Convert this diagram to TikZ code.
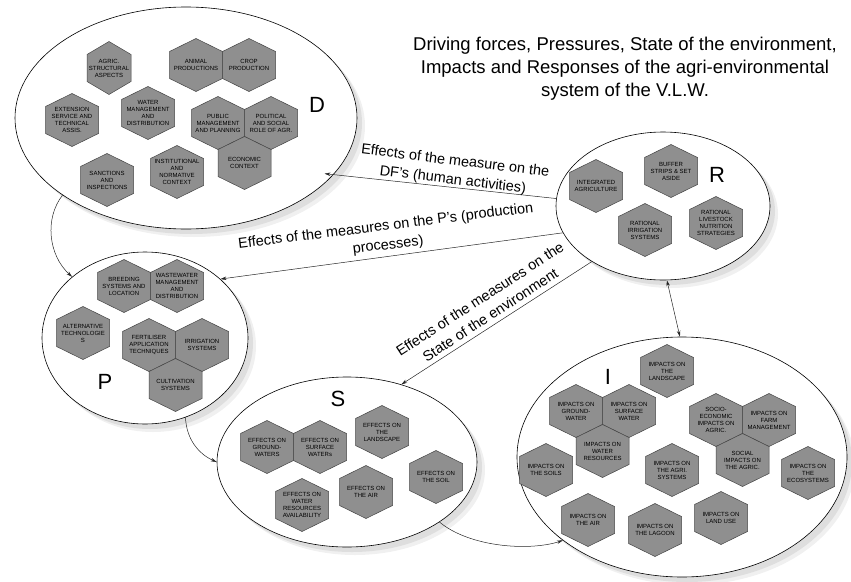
\documentclass[tikz,border=0pt]{standalone}
\usepackage{fontspec}
\setmainfont{Liberation Sans}
\usepackage{tikz}
\usetikzlibrary{shapes.geometric,arrows.meta,shadows}
\definecolor{hexgray}{RGB}{143,143,143}
\definecolor{hexline}{RGB}{70,70,70}

% hexagon with its text: [half width]{name}{x,y}{text}
\newcommand{\hexcell}[4][26.5]{%
  \filldraw[hexfill] (#3) ++(0,-26.5) -- ++(#1,13) -- ++(0,27) -- ++(-#1,13) -- ++(-#1,-13) -- ++(0,-27) -- cycle;
  \node[hextext] (#2) at (#3) {#4};
}

\begin{document}
\begin{tikzpicture}[x=1pt,y=-1pt,
    zone/.style={ellipse, draw=black, line width=0.6pt, fill=white, inner sep=0pt,
      drop shadow={shadow xshift=8pt, shadow yshift=-8pt, opacity=1, fill=gray!12},
      drop shadow={shadow xshift=5pt, shadow yshift=-5pt, opacity=1, fill=gray!26}},
    hexfill/.style={fill=hexgray, draw=hexline, line width=0.5pt},
    hextext/.style={font=\fontsize{6}{7}\selectfont, align=center, inner sep=0pt},
    zoneletter/.style={font=\fontsize{22}{22}\selectfont, inner sep=0pt},
    flowtext/.style={font=\fontsize{14.5}{19}\selectfont, align=center, inner sep=0pt},
    flow/.style={draw=black!85, line width=0.5pt, -{Stealth[length=6pt,width=3.5pt]}}]
    \useasboundingbox (0,0) rectangle (851,581);

    % the five systems
    \node[zone, minimum width=342pt, minimum height=222pt] (D) at (186,118) {};
    \node[zone, minimum width=214pt, minimum height=148pt] (R) at (663,206) {};
    \node[zone, minimum width=206pt, minimum height=172pt] (P) at (145,338) {};
    \node[zone, minimum width=260pt, minimum height=170pt] (S) at (347,462) {};
    \node[zone, minimum width=330pt, minimum height=240pt] (I) at (682,457) {};

    \node[font=\fontsize{18.5}{23}\selectfont, align=center] (title) at (625,69)
        {Driving forces, Pressures, State of the environment,\\
         Impacts and Responses of the agri-environmental\\
         system of the V.L.W.};

    % links
    \draw[flow, shorten >=-9pt] (R.176) -- (D.-21);
    \draw[flow] (R.195) -- (P.38);
    \draw[flow] (R.218) -- (S.55);
    \draw[flow] (D.212) .. controls +(-18,23) and +(-24,-22) .. (P.140);
    \draw[flow] (P.-63) .. controls +(1,22) and +(-18,-8) .. (S.180);
    \draw[flow] (S.-33) .. controls +(30,25) and +(-34,11) .. (I.215);
    \draw[flow, {Stealth[length=6pt,width=3.5pt]}-{Stealth[length=6pt,width=3.5pt]}] (R.-87) -- (I.91);

    \node[flowtext, rotate=-7] (lab1) at (454,171) {Effects of the measure on the\\DF's (human activities)};
    \node[flowtext, rotate=7] (lab2) at (387,236) {Effects of the measures on the P's (production\\processes)};
    \node[flowtext, rotate=33] (lab3) at (485,307) {Effects of the measures on the\\State of the environment};

    % D
    \node[zoneletter] (Dtag) at (317,105) {D};
    \hexcell[22]{d1}{109,68}{AGRIC.\\STRUCTURAL\\ASPECTS}
    \hexcell{d2}{196,65}{ANIMAL\\PRODUCTIONS}
    \hexcell{d3}{249,65}{CROP\\PRODUCTION}
    \hexcell{d4}{72,120}{EXTENSION\\SERVICE AND\\TECHNICAL\\ASSIS.}
    \hexcell{d5}{148,113}{WATER\\MANAGEMENT\\AND\\DISTRIBUTION}
    \hexcell{d6}{218,123}{PUBLIC\\MANAGEMENT\\AND PLANNING}
    \hexcell{d7}{271,123}{POLITICAL\\AND SOCIAL\\ROLE OF AGR.}
    \hexcell{d8}{244.5,163}{ECONOMIC\\CONTEXT}
    \hexcell{d9}{107,180}{SANCTIONS\\AND\\INSPECTIONS}
    \hexcell{d10}{177,172}{INSTITUTIONAL\\AND\\NORMATIVE\\CONTEXT}

    % R
    \node[zoneletter] (Rtag) at (717,175) {R};
    \hexcell{r1}{596,186}{INTEGRATED\\AGRICULTURE}
    \hexcell{r2}{671,171}{BUFFER\\STRIPS \& SET\\ASIDE}
    \hexcell{r3}{645,230}{RATIONAL\\IRRIGATION\\SYSTEMS}
    \hexcell{r4}{716,223}{RATIONAL\\LIVESTOCK\\NUTRITION\\STRATEGIES}

    % P
    \node[zoneletter] (Ptag) at (105,382) {P};
    \hexcell{p1}{124,286}{BREEDING\\SYSTEMS AND\\LOCATION}
    \hexcell{p2}{177,286}{WASTEWATER\\MANAGEMENT\\AND\\DISTRIBUTION}
    \hexcell{p3}{83,333}{ALTERNATIVE\\TECHNOLOGIE\\S}
    \hexcell{p4}{149,345}{FERTILISER\\APPLICATION\\TECHNIQUES}
    \hexcell{p5}{202,345}{IRRIGATION\\SYSTEMS}
    \hexcell{p6}{175.5,385}{CULTIVATION\\SYSTEMS}

    % S
    \node[zoneletter] (Stag) at (338,399) {S};
    \hexcell{s1}{267,447}{EFFECTS ON\\GROUND-\\WATERS}
    \hexcell{s2}{320,447}{EFFECTS ON\\SURFACE\\WATERs}
    \hexcell{s3}{382,432}{EFFECTS ON\\THE\\LANDSCAPE}
    \hexcell{s4}{436,477}{EFFECTS ON\\THE SOIL}
    \hexcell{s5}{366,492}{EFFECTS ON\\THE AIR}
    \hexcell{s6}{302,505}{EFFECTS ON\\WATER\\RESOURCES\\AVAILABILITY}

    % I
    \node[zoneletter] (Itag) at (608,377) {I};
    \hexcell{i1}{667,371}{IMPACTS ON\\THE\\LANDSCAPE}
    \hexcell{i2}{576,411}{IMPACTS ON\\GROUND-\\WATER}
    \hexcell{i3}{629,411}{IMPACTS ON\\SURFACE\\WATER}
    \hexcell{i4}{602.5,451}{IMPACTS ON\\WATER\\RESOURCES}
    \hexcell{i5}{716,420}{SOCIO-\\ECONOMIC\\IMPACTS ON\\AGRIC.}
    \hexcell{i6}{769,420}{IMPACTS ON\\FARM\\MANAGEMENT}
    \hexcell{i7}{742.5,460}{SOCIAL\\IMPACTS ON\\THE AGRIC.}
    \hexcell{i8}{546,470}{IMPACTS ON\\THE SOILS}
    \hexcell{i9}{672,470}{IMPACTS ON\\THE AGRI.\\SYSTEMS}
    \hexcell{i10}{808,473}{IMPACTS ON\\THE\\ECOSYSTEMS}
    \hexcell{i11}{588,520}{IMPACTS ON\\THE AIR}
    \hexcell{i12}{655,530}{IMPACTS ON\\THE LAGOON}
    \hexcell{i13}{721,518}{IMPACTS ON\\LAND USE}
\end{tikzpicture}
\end{document}
